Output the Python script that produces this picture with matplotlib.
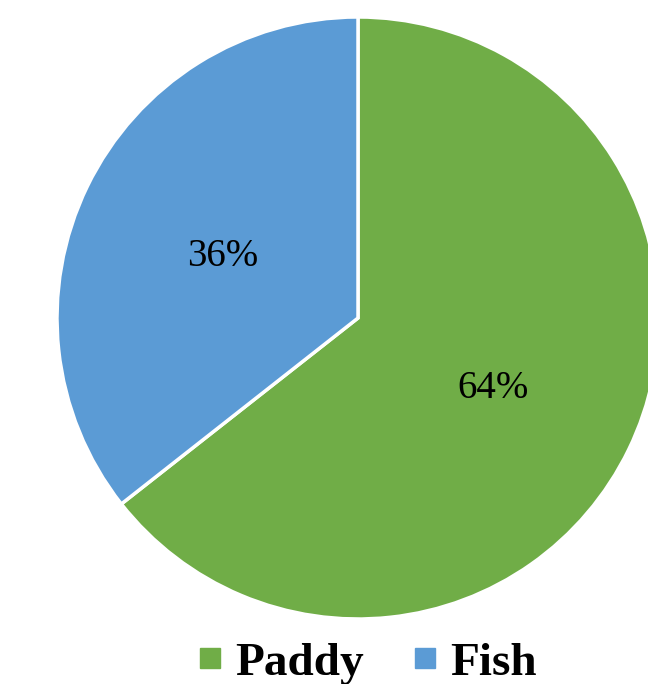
import matplotlib.pyplot as plt
from matplotlib.lines import Line2D

# data
labels = ['Paddy', 'Fish']
shares = [64.4, 35.6]
colors = ['#70AD47', '#5B9BD5']

plt.rcParams['font.family'] = ['Liberation Serif', 'DejaVu Serif']

fig = plt.figure(figsize=(6.48, 6.84), dpi=100)
# pie box: center (358, 318) px from top-left, radius ~301 px
W, H = 648, 684
r = 301
ax = fig.add_axes([(358 - r) / W, (H - 318 - r) / H, 2 * r / W, 2 * r / H])

wedges, texts, autotexts = ax.pie(
    shares, colors=colors, startangle=90, counterclock=False,
    autopct='%1.0f%%', pctdistance=0.5, radius=1,
    wedgeprops=dict(edgecolor='white', linewidth=2.5),
    textprops=dict(fontsize=28, color='black', va='center_baseline'))
ax.set_xlim(-1, 1)
ax.set_ylim(-1, 1)
ax.set_aspect('equal')
ax.axis('off')

handles = [Line2D([], [], marker='s', linestyle='none', markersize=14,
                  markerfacecolor=c, markeredgecolor=c) for c in colors]
leg = fig.legend(handles, labels, loc='center', bbox_to_anchor=(0.567, 0.03),
                 ncol=2, frameon=False, handletextpad=0.28, columnspacing=1.05,
                 handlelength=0.5, borderpad=0,
                 prop=dict(family='Liberation Serif', weight='bold', size=34))

fig.savefig('out.png', dpi=100)
